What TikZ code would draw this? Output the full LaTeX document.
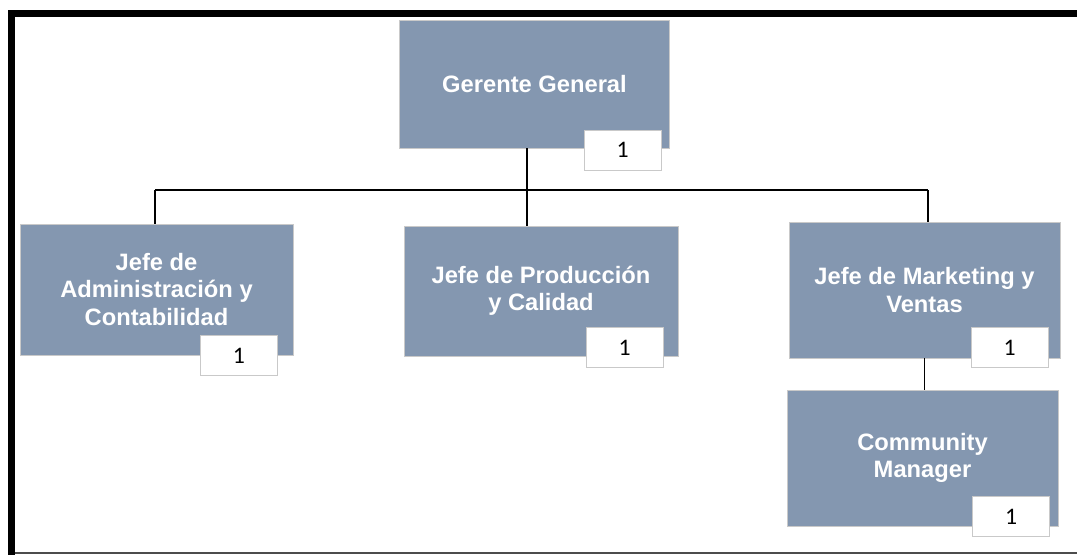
\documentclass[tikz,border=0pt]{standalone}
\usepackage{fontspec}
\usepackage{tikz}
\usetikzlibrary{calc,positioning}
\newfontfamily\boxfont{Liberation Sans}
\newfontfamily\numfont{Carlito}
\definecolor{boxblue}{HTML}{8497B0}
\definecolor{boxline}{HTML}{C9C9C9}

\begin{document}
\begin{tikzpicture}[
    x=0.02cm, y=-0.02cm,
    puesto/.style={rectangle,draw=boxline,fill=boxblue,thin,text=white,align=center,
        font=\boxfont\bfseries\fontsize{13.5}{15.4}\selectfont,inner sep=0pt},
    numbox/.style={rectangle,draw=boxline,fill=white,thin,minimum width=1.54cm,minimum height=0.8cm,
        font=\numfont\fontsize{13.5}{15}\selectfont,inner sep=0pt},
    rama/.style={draw=black,line width=0.8pt}
]
    \useasboundingbox (0,0) rectangle (1077,555);

    % frame
    \fill[black] (8,10) rectangle (1077,17);
    \fill[black] (8,10) rectangle (15,555);
    \draw[gray!60!black,line width=0.8pt] (15,553) -- (1077,553);

    % boxes
    \node[puesto,minimum width=5.4cm,minimum height=2.56cm] (gg) at (534.5,84) {Gerente General};
    \node[puesto,minimum width=5.46cm,minimum height=2.62cm] (admin) at (156.5,289.5) {Jefe de\\Administración y\\Contabilidad};
    \node[puesto,minimum width=5.48cm,minimum height=2.6cm] (prod) at (541,291) {Jefe de Producción\\y Calidad};
    \node[puesto,minimum width=5.42cm,minimum height=2.72cm] (mkt) at (924.5,290) {Jefe de Marketing y\\Ventas};
    \node[puesto,minimum width=5.42cm,minimum height=2.72cm] (cm) at (922.5,458) {Community\\Manager};

    % number boxes
    \node[numbox] (ggn) at (622.5,150) {1};
    \node[numbox] (adminn) at (239,355.5) {1};
    \node[numbox] (prodn) at (624.5,347.5) {1};
    \node[numbox] (mktn) at (1009.5,347.5) {1};
    \node[numbox] (cmn) at (1011,516.5) {1};

    % connectors
    \coordinate (busL) at (155,190);
    \coordinate (busM) at (527,190);
    \coordinate (busR) at (928,190);
    \draw[rama] (busL) -- (busR);
    \draw[rama] (gg.south -| busM) -- (busM);
    \draw[rama] (busL) -- (busL |- admin.north);
    \draw[rama] (busM) -- (busM |- prod.north);
    \draw[rama] (busR) -- (busR |- mkt.north);
    \draw[rama] (mkt.south) -- (mkt.south |- cm.north);

\end{tikzpicture}
\end{document}
